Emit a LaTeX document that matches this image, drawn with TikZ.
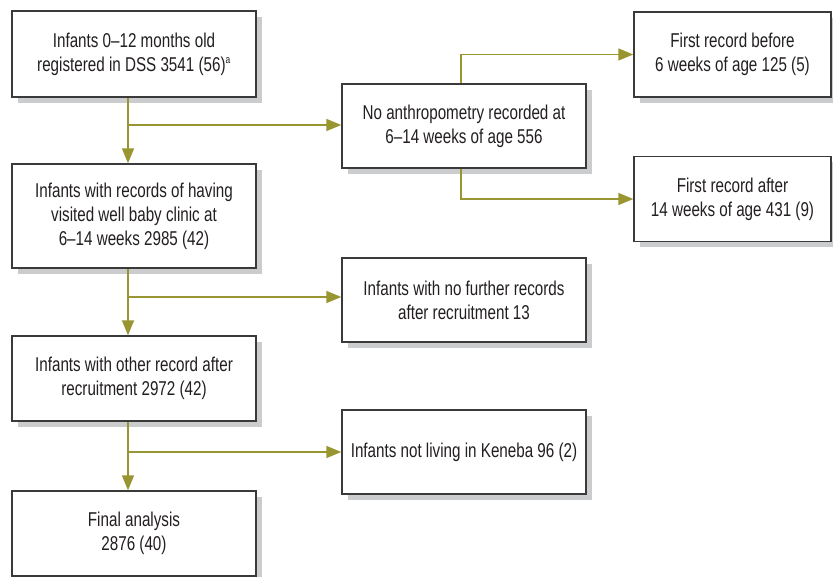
\documentclass[tikz,border=0pt]{standalone}
\usepackage{fontspec}
\setmainfont{Liberation Sans}[FakeStretch=0.76]
\usetikzlibrary{arrows.meta,shadows}
\definecolor{olive}{RGB}{153,149,48}
\definecolor{shgrey}{RGB}{203,204,206}
\definecolor{boxline}{RGB}{58,58,58}
\definecolor{txt}{RGB}{35,31,32}
\begin{document}
\begin{tikzpicture}[x=1pt,y=-1pt,
  box/.style={draw=boxline, line width=1.4pt, fill=white, rectangle, align=center,
    text=txt, font=\fontsize{20}{24}\selectfont, inner sep=0pt,
    drop shadow={shadow xshift=6pt, shadow yshift=-6pt, fill=shgrey, opacity=1}},
  flow/.style={draw=olive, line width=1.5pt, -{Triangle[length=15pt,width=12pt]}},
  plain/.style={draw=olive, line width=1.5pt}]
\useasboundingbox (0,0) rectangle (833,577);
\node[box, minimum width=244pt, minimum height=86pt] (A) at (134,54) {Infants 0--12 months old\\registered in DSS 3541 (56)\textsuperscript{\fontsize{11}{11}\selectfont a}};
\node[box, minimum width=244pt, minimum height=104pt] (B) at (134,216) {Infants with records of having\\visited well baby clinic at\\6--14 weeks 2985 (42)};
\node[box, minimum width=244pt, minimum height=85pt] (C) at (134,378.5) {Infants with other record after\\recruitment 2972 (42)};
\node[box, minimum width=244pt, minimum height=85pt] (D) at (134,533.5) {Final analysis\\2876 (40)};
\node[box, minimum width=244pt, minimum height=84pt] (N) at (464,126) {No anthropometry recorded at\\6--14 weeks of age 556};
\node[box, minimum width=197pt, minimum height=85pt] (FRB) at (732.5,54.5) {First record before\\6 weeks of age 125 (5)};
\node[box, minimum width=197pt, minimum height=85pt] (FRA) at (732.5,199) {First record after\\14 weeks of age 431 (9)};
\node[box, minimum width=244pt, minimum height=84pt] (NF) at (464,300) {Infants with no further records\\after recruitment 13};
\node[box, minimum width=244pt, minimum height=84pt] (NL) at (464,452) {Infants not living in Keneba 96 (2)};
\coordinate (t) at (128,0);
\coordinate (j1) at (128,125);
\coordinate (j2) at (128,297);
\coordinate (j3) at (128,452);
\coordinate (u) at (461,0);
\draw[flow] (A.south -| t) -- (B.north -| t);
\draw[flow] (j1) -- (j1 -| N.west);
\draw[flow] (B.south -| t) -- (C.north -| t);
\draw[flow] (j2) -- (j2 -| NF.west);
\draw[flow] (C.south -| t) -- (D.north -| t);
\draw[flow] (j3) -- (j3 -| NL.west);
\draw[flow] (N.north -| u) |- (FRB.west);
\draw[flow] (N.south -| u) |- (FRA.west);
\end{tikzpicture}
\end{document}
